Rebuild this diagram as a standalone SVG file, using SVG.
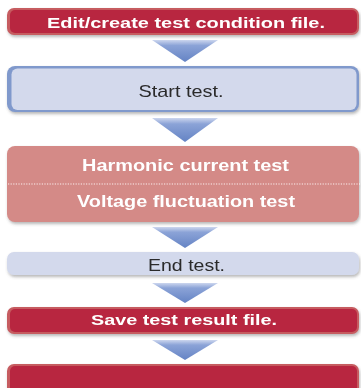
<svg xmlns="http://www.w3.org/2000/svg" width="361" height="388" viewBox="0 0 361 388">
  <defs>
    <linearGradient id="arrowFill" x1="0" y1="0" x2="0" y2="1">
      <stop offset="0" stop-color="#ccd6ee"/>
      <stop offset="0.25" stop-color="#8ba3d7"/>
      <stop offset="1" stop-color="#6483c4"/>
    </linearGradient>
    <filter id="shadow" x="-5%" y="-20%" width="110%" height="160%">
      <feDropShadow dx="1" dy="2" stdDeviation="1.4" flood-color="#606060" flood-opacity="0.45"/>
    </filter>
    <style>
      .redOuter { fill: #c65b60; }
      .redInner { fill: #b8283f; }
      .blueOuter { fill: #8099cc; }
      .blueInner { fill: #d3d9ec; }
      .pink { fill: #d48a87; }
      .pale { fill: #d3d9ec; }
      .arrow { fill: url(#arrowFill); }
      .white { font-family: "Liberation Sans", Arial, sans-serif; font-weight: bold; fill: #ffffff; text-anchor: middle; }
      .dark { font-family: "Liberation Sans", Arial, sans-serif; fill: #2b2b2b; text-anchor: middle; }
      .dots { stroke: #fbeeee; stroke-width: 1.2; stroke-dasharray: 1.2 1.4; }
    </style>
  </defs>

  <rect width="361" height="388" fill="#ffffff"/>

  <!-- step arrows between the boxes -->
  <g id="connectors">
    <path class="arrow" d="M152,40 L218,40 L185,62 Z"/>
    <path class="arrow" d="M152,118 L218,118 L185,142 Z"/>
    <path class="arrow" d="M152,227 L218,227 L185,248 Z"/>
    <path class="arrow" d="M152,283 L218,283 L185,303 Z"/>
    <path class="arrow" d="M152,340 L218,340 L185,360 Z"/>
  </g>

  <g id="edit-condition-file" filter="url(#shadow)">
    <rect class="redOuter" x="7" y="8" width="352" height="27" rx="7"/>
    <rect class="redInner" x="10" y="10" width="347" height="23" rx="5"/>
    <text class="white" x="186" y="27.5" font-size="15.5" textLength="278" lengthAdjust="spacingAndGlyphs">Edit/create test condition file.</text>
  </g>

  <g id="start-test" filter="url(#shadow)">
    <rect class="blueOuter" x="7" y="66" width="352" height="46" rx="8"/>
    <rect class="blueInner" x="11.5" y="68.5" width="345" height="41.5" rx="6"/>
    <text class="dark" x="181" y="97" font-size="17" textLength="85" lengthAdjust="spacingAndGlyphs">Start test.</text>
  </g>

  <g id="run-tests" filter="url(#shadow)">
    <rect class="pink" x="7" y="146" width="352" height="76" rx="8"/>
    <line class="dots" x1="8" y1="184" x2="360" y2="184"/>
    <text class="white" x="185.5" y="170.5" font-size="16.5" textLength="207" lengthAdjust="spacingAndGlyphs">Harmonic current test</text>
    <text class="white" x="186" y="207" font-size="16.5" textLength="218" lengthAdjust="spacingAndGlyphs">Voltage fluctuation test</text>
  </g>

  <g id="end-test" filter="url(#shadow)">
    <rect class="pale" x="7" y="252" width="352" height="23" rx="7"/>
    <text class="dark" x="186.5" y="270.5" font-size="16.5" textLength="77" lengthAdjust="spacingAndGlyphs">End test.</text>
  </g>

  <g id="save-result-file" filter="url(#shadow)">
    <rect class="redOuter" x="7" y="307" width="352" height="27" rx="7"/>
    <rect class="redInner" x="10" y="309" width="347" height="23" rx="5"/>
    <text class="white" x="184" y="324.5" font-size="15.5" textLength="186" lengthAdjust="spacingAndGlyphs">Save test result file.</text>
  </g>

  <g id="next-step" filter="url(#shadow)">
    <rect class="redOuter" x="7" y="364" width="352" height="34" rx="7"/>
    <rect class="redInner" x="10" y="366" width="347" height="30" rx="5"/>
  </g>
</svg>
